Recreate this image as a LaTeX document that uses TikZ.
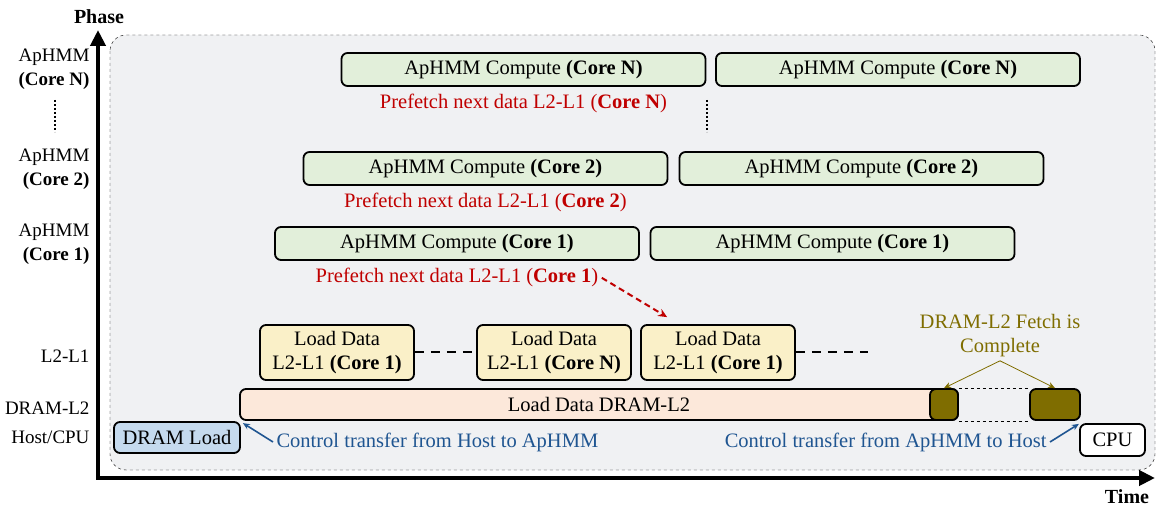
\documentclass[tikz,border=0pt]{standalone}
\usepackage{fontspec}
\setmainfont{Liberation Serif}
\usetikzlibrary{arrows.meta,positioning}

\definecolor{bgGray}{HTML}{F0F1F3}
\definecolor{compGreen}{HTML}{E2EFDA}
\definecolor{loadYellow}{HTML}{FAF0C8}
\definecolor{dramPeach}{HTML}{FCE8DA}
\definecolor{hostBlue}{HTML}{C5DAEE}
\definecolor{fetchOlive}{HTML}{7F6D00}
\definecolor{prefRed}{HTML}{C00000}
\definecolor{ctrlBlue}{HTML}{1F5591}

\tikzset{
  box/.style={draw=black, line width=1.8pt, rounded corners=6pt, inner sep=0pt, align=center},
  compbox/.style={box, fill=compGreen, minimum width=364pt, minimum height=33pt},
  loadbox/.style={box, fill=loadYellow, minimum width=154pt, minimum height=55pt},
  fetchbox/.style={box, fill=fetchOlive, minimum height=31pt},
  prefetch/.style={text=prefRed, below=4pt of #1},
  phaselabel/.style={anchor=east, align=right, font=\fontsize{19}{24}\selectfont},
  ctrltext/.style={text=ctrlBlue},
  ctrlarrow/.style={draw=ctrlBlue, line width=1.6pt, -{Stealth[length=7pt,width=6pt]}},
  axis/.style={line width=4pt, -{Triangle[length=16pt,width=15pt]}}
}

\begin{document}
\begin{tikzpicture}[x=1pt, y=-1pt, font=\fontsize{20.5}{24}\selectfont]
  \useasboundingbox (0,0) rectangle (1157,510);

  % background frame
  \draw [dashed, thin, fill=bgGray, rounded corners=16pt] (110,35) rectangle (1155,470);

  % axes
  \draw [axis] (98,479) -- (98,30);
  \draw [axis] (96,478) -- (1155,478);
  \node [font=\fontsize{20}{24}\selectfont\bfseries] (phase) at (99,17) {Phase};
  \node [font=\fontsize{20}{24}\selectfont\bfseries] (time) at (1127,497) {Time};

  % phase labels
  \node [phaselabel] (lcN) at (93,69) {ApHMM\\\textbf{(Core N)}};
  \draw [line width=2pt, dotted] (55,100) -- (55,132);
  \node [phaselabel] (lc2) at (93,169) {ApHMM\\\textbf{(Core 2)}};
  \node [phaselabel] (lc1) at (93,244) {ApHMM\\\textbf{(Core 1)}};
  \node [phaselabel] (ll2) at (93,356) {L2-L1};
  \node [phaselabel] (ldram) at (93,408) {DRAM-L2};
  \node [phaselabel] (lhost) at (93,437) {Host/CPU};

  % compute phases
  \node [compbox] (compN1) at (523.5,69.5) {ApHMM Compute \textbf{(Core N)}};
  \node [compbox] (compN2) at (898,69.5) {ApHMM Compute \textbf{(Core N)}};
  \node [compbox] (comp21) at (485.5,168.5) {ApHMM Compute \textbf{(Core 2)}};
  \node [compbox] (comp22) at (861.5,168.5) {ApHMM Compute \textbf{(Core 2)}};
  \node [compbox] (comp11) at (457,243.5) {ApHMM Compute \textbf{(Core 1)}};
  \node [compbox] (comp12) at (832.5,243.5) {ApHMM Compute \textbf{(Core 1)}};
  \draw [line width=2pt, dotted] (707,100) -- (707,132);

  % prefetch notes
  \node [prefetch=compN1] (pfN) {Prefetch next data L2-L1 (\textbf{Core N})};
  \node [prefetch=comp21] (pf2) {Prefetch next data L2-L1 (\textbf{Core 2})};
  \node [prefetch=comp11] (pf1) {Prefetch next data L2-L1 (\textbf{Core 1})};

  % L2-L1 loads
  \node [loadbox] (load1) at (337,352.5) {Load Data\\L2-L1 \textbf{(Core 1)}};
  \node [loadbox] (load2) at (554,352.5) {Load Data\\L2-L1 \textbf{(Core N)}};
  \node [loadbox] (load3) at (718,352.5) {Load Data\\L2-L1 \textbf{(Core 1)}};
  \coordinate (loadend) at (868,352.5);
  \draw [line width=2pt, dash pattern=on 9pt off 7pt] (load1) -- (load2);
  \draw [line width=2pt, dash pattern=on 9pt off 7pt] (load3) -- (loadend);
  \draw [prefRed, line width=2pt, dash pattern=on 6pt off 4pt, -{Stealth[length=9pt,width=8pt]}] (pf1.east) -- ([xshift=27pt,yshift=7pt]load3.north west);

  % DRAM-L2 load
  \node [box, fill=dramPeach, minimum width=718pt, minimum height=31pt] (dram) at (599,404.5) {Load Data DRAM-L2};
  \node [fetchbox, minimum width=28pt] (fetchA) at (944,404.5) {};
  \node [fetchbox, minimum width=50pt] (fetchB) at (1055,404.5) {};
  \draw [thin, dashed] (fetchA.north east) -- (fetchB.north west);
  \draw [thin, dashed] (fetchA.south east) -- (fetchB.south west);
  \node [text=fetchOlive, align=center] (done) at (1000,336) {DRAM-L2 Fetch is\\Complete};
  \draw [fetchOlive, thick, -{Stealth[length=7pt,width=6pt]}] (done.south) -- (fetchA.north);
  \draw [fetchOlive, thick, -{Stealth[length=7pt,width=6pt]}] (done.south) -- (fetchB.north);

  % host side
  \node [box, fill=hostBlue, minimum width=126pt, minimum height=31pt] (dramload) at (177,437.5) {DRAM Load};
  \node [box, fill=white, minimum width=65pt, minimum height=32pt] (cpu) at (1112.5,440) {CPU};
  \node [ctrltext, anchor=west] (ctrlA) at (273,442) {Control transfer from Host to ApHMM};
  \node [ctrltext, anchor=east] (ctrlB) at (1050,442) {Control transfer from ApHMM to Host};
  \draw [ctrlarrow] (ctrlA.west) -- ([xshift=2pt,yshift=-2pt]dramload.north east);
  \draw [ctrlarrow] (ctrlB.east) -- ([xshift=-2pt,yshift=-3pt]fetchB.south east);
\end{tikzpicture}
\end{document}
